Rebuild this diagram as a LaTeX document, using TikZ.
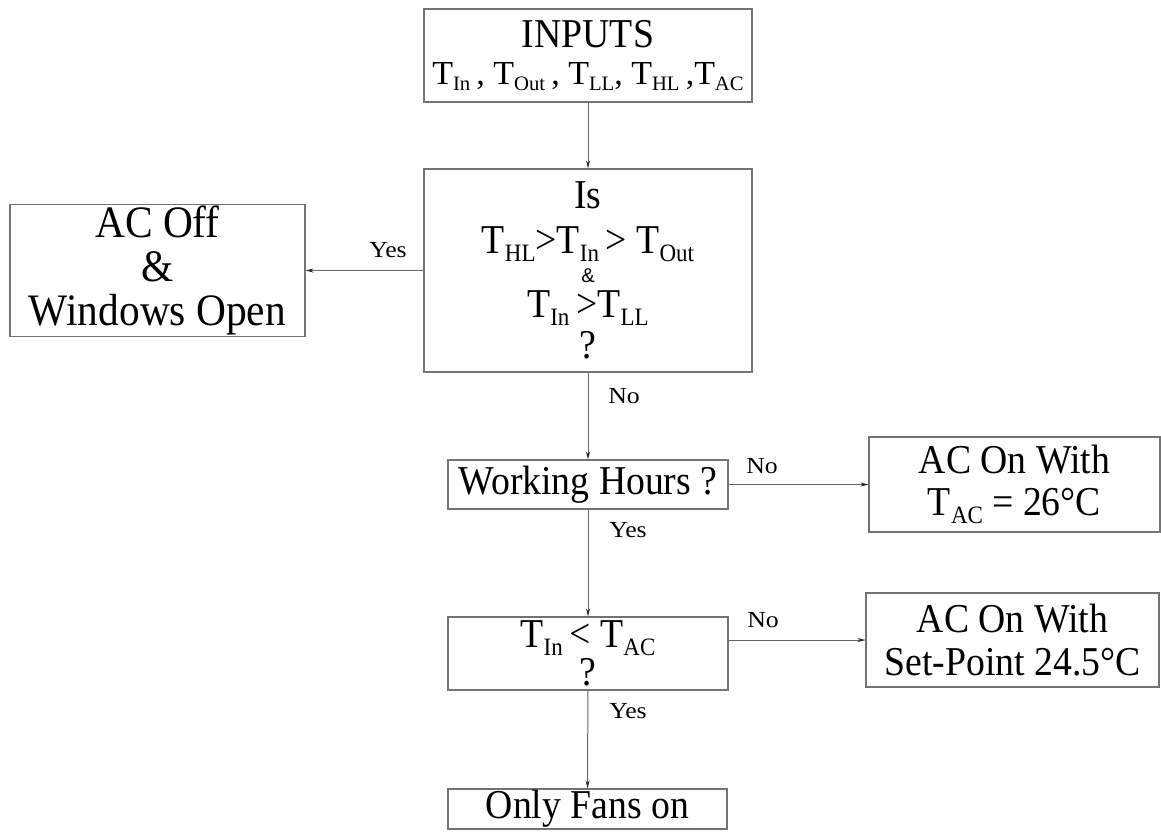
\documentclass[tikz,border=0pt]{standalone}
\usepackage{fontspec}
\usepackage{graphicx}
\setmainfont[FakeStretch=0.92]{Liberation Serif}
\setsansfont{Liberation Sans}
\newfontfamily\lblfont[FakeStretch=1.12]{Liberation Serif}
\usetikzlibrary{arrows.meta}
\newcommand\sbs[1]{\raisebox{-8pt}{\fontsize{25}{25}\selectfont #1}}
\newcommand\smallamp{{\sffamily\fontsize{20}{20}\selectfont\&}}
\begin{document}
\begin{tikzpicture}[x=1pt,y=-1pt,
  box/.style={draw=black!55, line width=1.1pt, rectangle, inner sep=0pt, align=center,
    font=\fontsize{41}{41}\selectfont},
  conn/.style={draw=black!60, line width=1pt, -{Stealth[length=8pt,width=4pt,color=black!85]}},
  lbl/.style={font=\lblfont\fontsize{23}{23}\selectfont, inner sep=0pt, anchor=base}
]
\useasboundingbox (0,0) rectangle (1161,831);
\fill[white] (0,0) rectangle (1161,831);

\node[box, minimum width=328pt, minimum height=93pt] (inp) at (588,55.5)
  {INPUTS\\[-4pt] \scalebox{0.9}[0.82]{T\sbs{In}\,, T\sbs{Out}\,, T\sbs{LL}, T\sbs{HL}\,,T\sbs{AC}}};
\node[box, minimum width=328pt, minimum height=203pt] (dec) at (588,270.5)
  {Is\\[4pt] T\sbs{HL}>T\sbs{In}\,> T\sbs{Out}\\[-12pt] \smallamp\\[-6pt] T\sbs{In}\,>T\sbs{LL}\\[0pt] ?};
\node[box, minimum width=295pt, minimum height=132pt, font=\fontsize{45}{45}\selectfont] (off) at (157.5,270.5)
  {AC Off\\[-1pt] \&\\[-1pt] Windows Open};
\node[box, minimum width=280pt, minimum height=49pt] (wh) at (588,484.5) {Working Hours ?};
\node[box, minimum width=291pt, minimum height=95pt] (on26) at (1014.5,484.5)
  {AC On With\\[1pt] T\sbs{AC} = 26°C};
\node[box, minimum width=280pt, minimum height=73pt] (cmp) at (588,653.5)
  {T\sbs{In}\,< T\sbs{AC}\\[-3pt] ?};
\node[box, minimum width=293pt, minimum height=94pt] (on24) at (1012.5,640)
  {AC On With\\[2pt] Set-Point 24.5°C};
\node[box, minimum width=279pt, minimum height=40pt] (fans) at (587.5,809) {Only Fans on};

\draw[conn] (inp) -- (dec);
\draw[conn] (dec.west) -- (off.east);
\draw[conn] (dec) -- (wh);
\draw[conn] (wh) -- (on26);
\draw[conn] (wh) -- (cmp);
\draw[conn] (on24.west -| cmp.east) -- (on24.west);
\draw[conn] (cmp) -- (fans);

\node[lbl] (yes1) at (388,257) {Yes};
\node[lbl] (no1) at (624,403) {No};
\node[lbl] (no2) at (762,473) {No};
\node[lbl] (yes2) at (628,537) {Yes};
\node[lbl] (no3) at (763,627) {No};
\node[lbl] (yes3) at (628,718) {Yes};
\end{tikzpicture}
\end{document}
